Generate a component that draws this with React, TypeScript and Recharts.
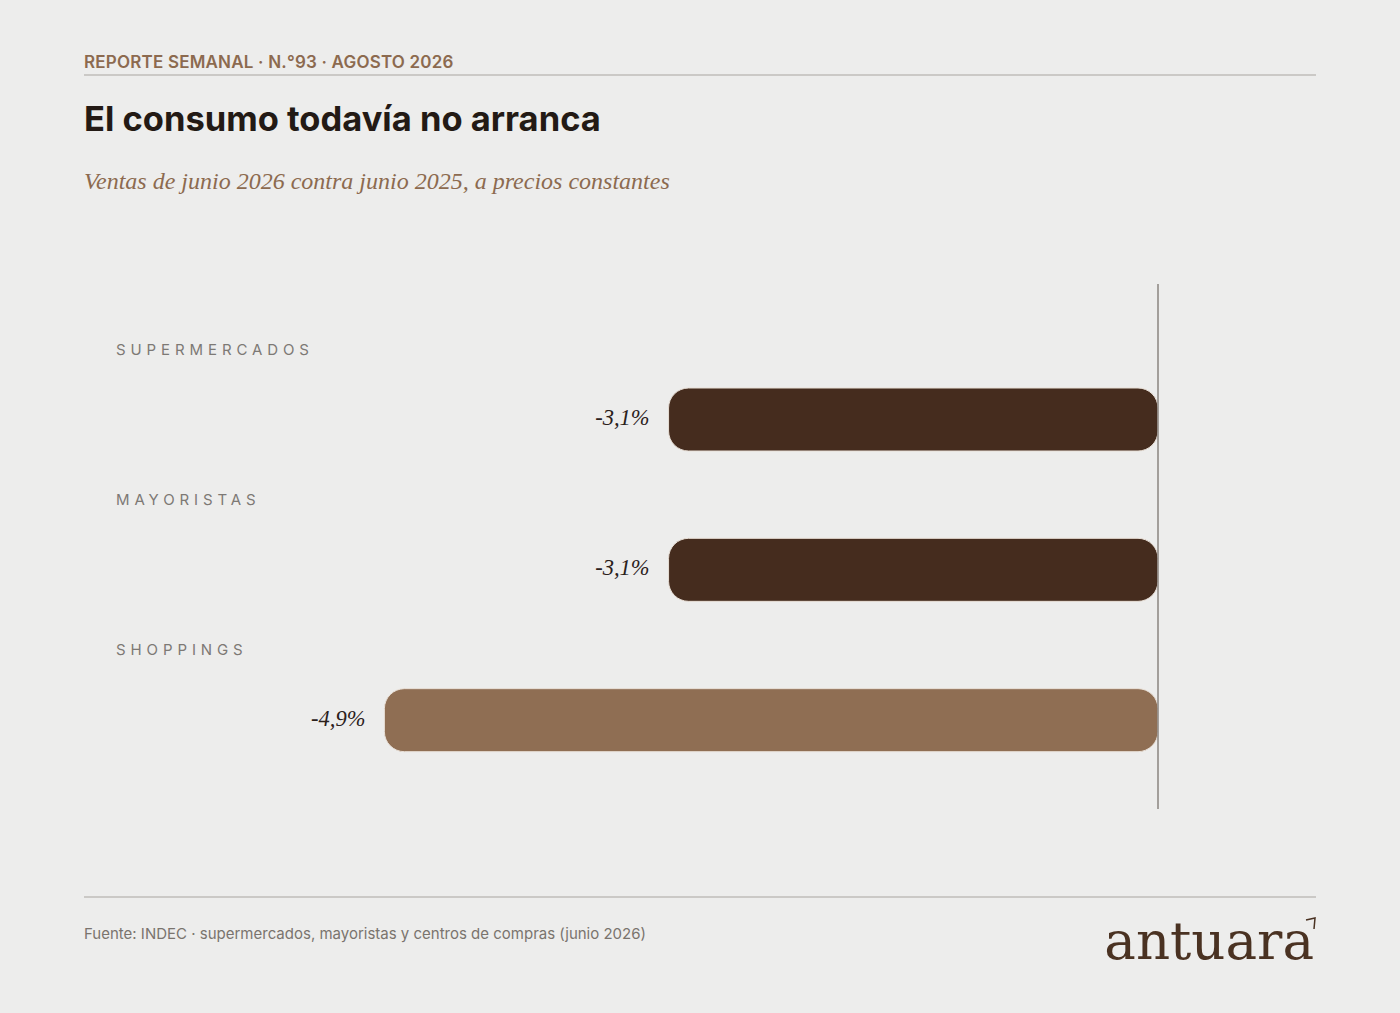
import { BarChart, Bar, XAxis, YAxis, Cell, LabelList, ReferenceLine } from "recharts";

const categories = ["SUPERMERCADOS", "MAYORISTAS", "SHOPPINGS"];
const changes = [-3.1, -3.1, -4.9];
const barColors = ["#452c1e", "#452c1e", "#8f6e53"];

const data = categories.map((name, i) => ({ name, value: changes[i] }));

const BG = "#ededec";
const SANS = "Inter, 'DejaVu Sans', sans-serif";
const SERIF = "'Liberation Serif', 'DejaVu Serif', serif";

function ValueLabel(props: any) {
  const { x, y, width, height, value } = props;
  const left = Math.min(x, x + width);
  const txt = `${String(value).replace(".", ",")}%`;
  return (
    <text
      x={left - 19}
      y={y + height / 2 - 2}
      textAnchor="end"
      dominantBaseline="central"
      fill="#2b211b"
      fontFamily={SERIF}
      fontStyle="italic"
      fontSize={22.5}
    >
      {txt}
    </text>
  );
}

function CategoryLabel(props: any) {
  const { y, value } = props;
  return (
    <text
      x={116}
      y={y - 39}
      dominantBaseline="central"
      fill="#7d7975"
      fontFamily={SANS}
      fontSize={15}
      letterSpacing={4.9}
    >
      {value}
    </text>
  );
}

export default function App() {
  return (
    <div
      style={{
        position: "absolute",
        left: 0,
        top: 0,
        width: 1400,
        height: 1013,
        background: BG,
        overflow: "hidden",
      }}
    >
      <div
        style={{
          position: "absolute",
          left: 84,
          top: 52,
          fontFamily: SANS,
          fontWeight: 600,
          fontSize: 17,
          color: "#8c6a4f",
          letterSpacing: 0.2,
        }}
      >
        REPORTE SEMANAL · N.°93 · AGOSTO 2026
      </div>
      <div style={{ position: "absolute", left: 84, top: 74, width: 1232, height: 2, background: "#cbc9c6" }} />
      <div
        style={{
          position: "absolute",
          left: 84,
          top: 98,
          fontFamily: SANS,
          fontWeight: 700,
          fontSize: 34.5,
          color: "#231a15",
          letterSpacing: 0,
        }}
      >
        El consumo todavía no arranca
      </div>
      <div
        style={{
          position: "absolute",
          left: 84,
          top: 168,
          fontFamily: SERIF,
          fontStyle: "italic",
          fontSize: 24,
          color: "#8c6a4f",
        }}
      >
        Ventas de junio 2026 contra junio 2025, a precios constantes
      </div>

      <div style={{ position: "absolute", left: 0, top: 0 }}>
        <BarChart
          width={1400}
          height={1013}
          data={data}
          layout="vertical"
          margin={{ top: 284, right: 242, bottom: 204, left: 116 }}
        >
          <XAxis type="number" hide domain={[-6.6, 0]} />
          <YAxis type="category" dataKey="name" hide padding={{ top: 60, bottom: 14 }} />
          <Bar dataKey="value" barSize={63} radius={20} stroke="#e8dfd6" strokeWidth={1} isAnimationActive={false}>
            {data.map((d, i) => (
              <Cell key={d.name} fill={barColors[i]} />
            ))}
            <LabelList dataKey="value" content={ValueLabel} />
            <LabelList dataKey="name" content={CategoryLabel} />
          </Bar>
          <ReferenceLine x={0} stroke="#8a8580" strokeWidth={1.5} />
        </BarChart>
      </div>

      <div style={{ position: "absolute", left: 84, top: 896, width: 1232, height: 2, background: "#cbc9c6" }} />
      <div
        style={{
          position: "absolute",
          left: 84,
          top: 924,
          fontFamily: SANS,
          fontSize: 15,
          color: "#7a746e",
        }}
      >
        Fuente: INDEC · supermercados, mayoristas y centros de compras (junio 2026)
      </div>
      <div
        style={{
          position: "absolute",
          right: 86,
          top: 909,
          fontFamily: "'DejaVu Serif', serif",
          fontSize: 53,
          color: "#4a3222",
          lineHeight: "64px",
        }}
      >
        antuara
      </div>
      <svg style={{ position: "absolute", left: 1304, top: 917 }} width={14} height={16}>
        <path d="M2 3 L11 1 L10 12" stroke="#4a3222" strokeWidth={1.5} fill="none" />
      </svg>
    </div>
  );
}
